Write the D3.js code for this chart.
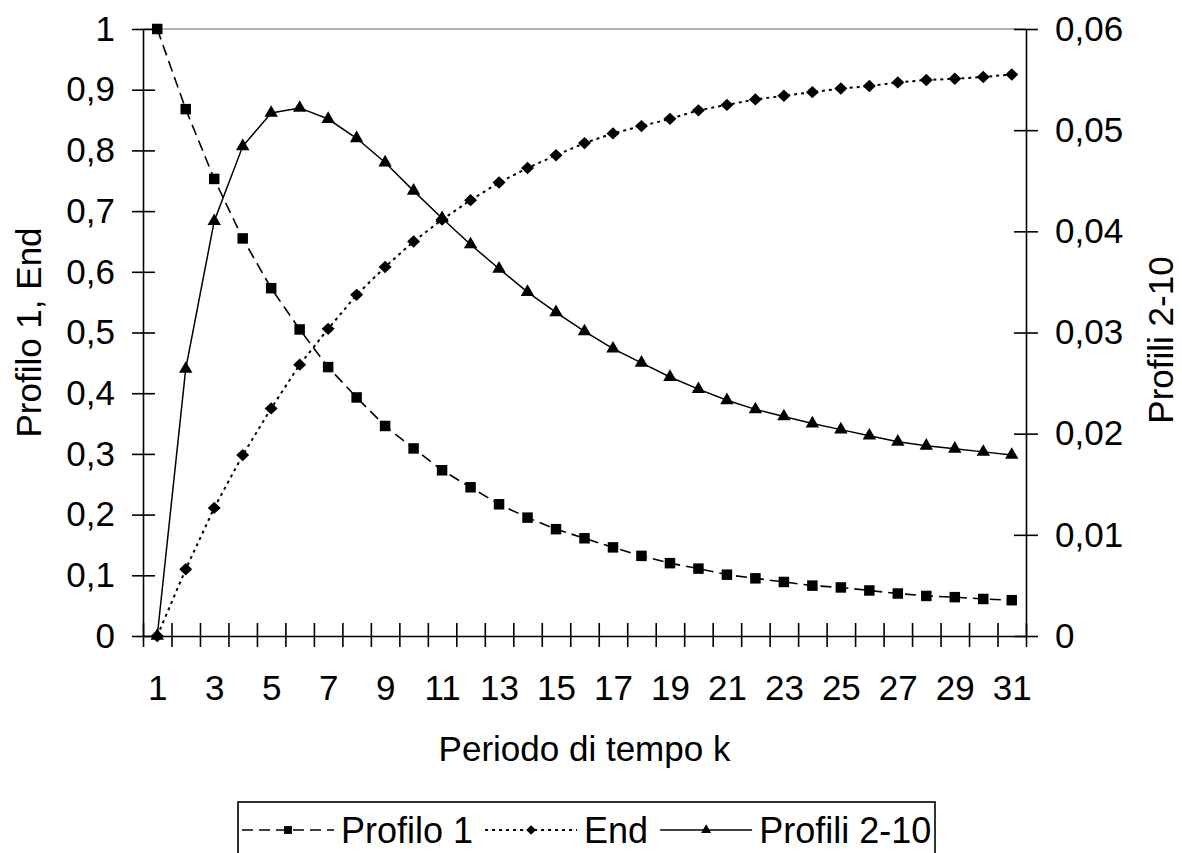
<!DOCTYPE html>
<html><head><meta charset="utf-8">
<script src="https://cdn.jsdelivr.net/npm/d3@7"></script>
<style>
body{margin:0;background:#fff}
text{font-family:"Liberation Sans",Arial,sans-serif;fill:#000}
</style>
</head><body>
<svg id="c" width="1182" height="853"></svg>
<script>
// ---- data ----
const categories = [1,2,3,4,5,6,7,8,9,10,11,12,13,14,15,16,17,18,19,20,21,22,23,24,25,26,27,28,29,30,31];
const profilo1 = [1.0,0.868,0.753,0.655,0.573,0.505,0.443,0.393,0.346,0.309,0.273,0.245,0.217,0.195,0.176,0.161,0.146,0.132,0.120,0.111,0.101,0.095,0.089,0.083,0.080,0.075,0.070,0.066,0.064,0.061,0.059];
const endSeries = [0,0.110,0.211,0.298,0.375,0.447,0.506,0.562,0.608,0.650,0.686,0.718,0.747,0.771,0.792,0.812,0.828,0.840,0.852,0.866,0.875,0.884,0.890,0.896,0.902,0.906,0.912,0.916,0.918,0.921,0.925];
const profili210 = [0,0.0264,0.0410,0.0484,0.0517,0.0522,0.0511,0.0492,0.0468,0.0440,0.0413,0.0387,0.0363,0.0340,0.0320,0.0301,0.0284,0.0270,0.0256,0.0244,0.0233,0.0224,0.0217,0.0210,0.0204,0.0198,0.0192,0.0188,0.0185,0.0182,0.0179];
const xTickLabels = [1,3,5,7,9,11,13,15,17,19,21,23,25,27,29,31];
const leftTicks = [0,0.1,0.2,0.3,0.4,0.5,0.6,0.7,0.8,0.9,1];
const leftTickLabels = ["0","0,1","0,2","0,3","0,4","0,5","0,6","0,7","0,8","0,9","1"];
const rightTicks = [0,0.01,0.02,0.03,0.04,0.05,0.06];
const rightTickLabels = ["0","0,01","0,02","0,03","0,04","0,05","0,06"];
const seriesNames = ["Profilo 1","End","Profili 2-10"];
const xTitle = "Periodo di tempo k";
const yLeftTitle = "Profilo 1, End";
const yRightTitle = "Profili 2-10";

// ---- layout ----
const L = 143, R = 1026, T = 29, B = 636;
const svg = d3.select("#c");
const x = d3.scaleLinear().domain([categories[0]-0.5, categories[categories.length-1]+0.5]).range([L,R]);
const yL = d3.scaleLinear().domain([0,1]).range([B,T]);
const yR = d3.scaleLinear().domain([0,0.06]).range([B,T]);
const FS = 35;

// top border of plot area
svg.append("line").attr("x1",L).attr("x2",R).attr("y1",T).attr("y2",T)
  .attr("stroke","#9a9a9a").attr("stroke-width",1.5);

// left axis
const gL = svg.append("g").attr("transform",`translate(${L},0)`)
  .call(d3.axisLeft(yL).tickValues(leftTicks).tickSize(11).tickSizeOuter(0).tickPadding(17)
    .tickFormat((d,i)=>leftTickLabels[i]));
gL.selectAll(".tick line").attr("x1",12).attr("x2",-11);
// right axis
const gR = svg.append("g").attr("transform",`translate(${R},0)`)
  .call(d3.axisRight(yR).tickValues(rightTicks).tickSize(12).tickSizeOuter(0).tickPadding(17)
    .tickFormat((d,i)=>rightTickLabels[i]));
gR.selectAll(".tick line").attr("x1",-12).attr("x2",12);
// x axis boundary ticks
const boundaries = categories.map(c=>c-0.5).concat([categories[categories.length-1]+0.5]);
const gX = svg.append("g").attr("transform",`translate(0,${B})`)
  .call(d3.axisBottom(x).tickValues(boundaries).tickSize(11).tickSizeOuter(0).tickFormat(""));
gX.selectAll(".tick line").attr("y1",-13).attr("y2",11);
// x labels
const gXl = svg.append("g").attr("transform",`translate(0,${B})`)
  .call(d3.axisBottom(x).tickValues(xTickLabels).tickSize(0).tickPadding(39).tickFormat(d=>d));
gXl.select(".domain").remove();

[gL,gR,gX].forEach(g=>{
  g.selectAll("path.domain").attr("stroke","#000").attr("stroke-width",1.6);
  g.selectAll(".tick line").attr("stroke","#000").attr("stroke-width",1.6);
});
[gL,gR,gXl].forEach(g=>g.selectAll("text").attr("font-size",FS).attr("font-family",'"Liberation Sans",Arial,sans-serif').attr("fill","#000"));

// titles
svg.append("text").attr("x",(L+R)/2).attr("y",761).attr("text-anchor","middle").attr("font-size",FS).text(xTitle);
svg.append("text").attr("transform",`translate(41,${(T+B)/2}) rotate(-90)`).attr("text-anchor","middle").attr("font-size",FS).text(yLeftTitle);
svg.append("text").attr("transform",`translate(1173,340) rotate(-90)`).attr("text-anchor","middle").attr("font-size",FS).text(yRightTitle);

// marker shapes
const sq = d3.symbol().type(d3.symbolSquare).size(110)();
const diamond = "M0,-6.2L6.5,0L0,6.2L-6.5,0Z";
const tri = d3.symbol().type(d3.symbolTriangle).size(78)();
const series = [
  {name:seriesNames[0], values:profilo1, y:yL, dash:"11,6", marker:sq, lw:1.6},
  {name:seriesNames[1], values:endSeries, y:yL, dash:"3,4", marker:diamond, lw:2},
  {name:seriesNames[2], values:profili210, y:yR, dash:null, marker:tri, lw:1.5}
];
series.forEach(s=>{
  const line = d3.line().x((d,i)=>x(categories[i])).y(d=>s.y(d));
  svg.append("path").datum(s.values).attr("d",line).attr("fill","none")
    .attr("stroke","#000").attr("stroke-width",s.lw).attr("stroke-dasharray",s.dash);
});
series.forEach(s=>{
  svg.append("g").selectAll("path").data(s.values).join("path")
    .attr("d",s.marker).attr("fill","#000")
    .attr("transform",(d,i)=>`translate(${x(categories[i])},${s.y(d)})`);
});

// legend
const leg = svg.append("g");
leg.append("rect").attr("x",238).attr("y",802).attr("width",697).attr("height",90)
  .attr("fill","#fff").attr("stroke","#000").attr("stroke-width",1.6);
let cx = 242;
const ly = 830;
series.forEach(s=>{
  leg.append("line").attr("x1",cx).attr("x2",cx+92).attr("y1",ly).attr("y2",ly)
    .attr("stroke","#000").attr("stroke-width",s.lw).attr("stroke-dasharray",s.dash);
  leg.append("path").attr("d",s.marker).attr("fill","#000")
    .attr("transform",`translate(${cx+46},${ly}) scale(0.75)`);
  const t = leg.append("text").attr("x",cx+99).attr("y",843).attr("font-size",36).text(s.name);
  cx = cx + 99 + t.node().getComputedTextLength() + 12;
});
</script>
</body></html>
